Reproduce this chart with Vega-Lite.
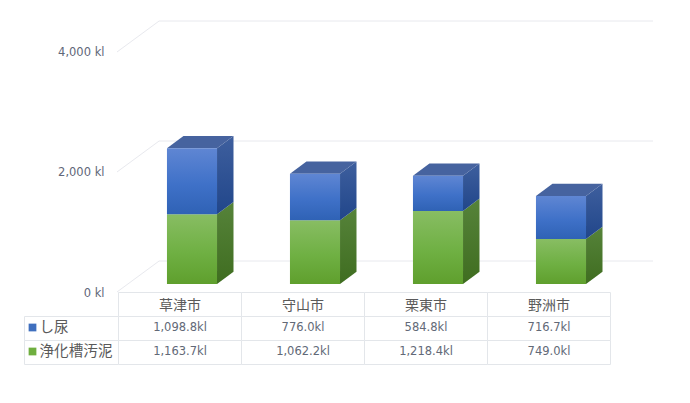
{
"$schema":"https://vega.github.io/schema/vega-lite/v6.json",
"width":690,"height":403,"padding":0,"autosize":{"type":"none"},"background":"white",
"config":{"view":{"stroke":null}},
"datasets":{
"rows":[
{"city":"草津市","series":"し尿","value":1098.8},
{"city":"草津市","series":"浄化槽汚泥","value":1163.7},
{"city":"守山市","series":"し尿","value":776.0},
{"city":"守山市","series":"浄化槽汚泥","value":1062.2},
{"city":"栗東市","series":"し尿","value":584.8},
{"city":"栗東市","series":"浄化槽汚泥","value":1218.4},
{"city":"野洲市","series":"し尿","value":716.7},
{"city":"野洲市","series":"浄化槽汚泥","value":749.0}
],
"ticks":[{"v":0},{"v":2000},{"v":4000}]
},
"resolve":{"scale":{"x":"independent","y":"independent"},"axis":{"x":"independent","y":"independent"}},
"layer":[
{
"layer":[
{"data":{"name":"ticks"},
"transform":[{"calculate":"[0,1,2]","as":"stop"},{"flatten":["stop"]},
{"calculate":"[-0.012,0.33,4.346][datum.stop]","as":"wx"},
{"calculate":"datum.v+[-133,383,383][datum.stop]","as":"wy"}],
"mark":{"type":"line","color":"#e8e9ee","strokeWidth":1,"interpolate":"linear"},
"encoding":{
"x":{"field":"wx","type":"quantitative","scale":{"domain":[-0.96341,4.64634],"nice":false,"zero":false},"axis":null},
"y":{"field":"wy","type":"quantitative","stack":null,"scale":{"domain":[-1983.33,4733.33],"nice":false,"zero":false},
"axis":{"title":null,"values":[0,2000,4000],"domain":false,"ticks":false,"grid":false,"labelPadding":0,"offset":-104,"labelOffset":9,"labelFont":"DejaVu Sans","labelFontSize":11.5,"labelColor":"#5f6779","labelExpr":"format(datum.value,',')+' kl'"}},
"detail":{"field":"v"},
"order":{"field":"stop"}
}},
{"data":{"name":"rows"},
"transform":[
{"stack":"value","groupby":["city"],"sort":[{"field":"series","order":"descending"}],"as":["y0","y1"]},
{"calculate":"indexof(['草津市','守山市','栗東市','野洲市'],datum.city)","as":"i"},
{"calculate":"datum.i+0.394","as":"left"},
{"calculate":"datum.i+0.801","as":"right"}],
"layer":[
{"transform":[{"filter":"datum.series==='浄化槽汚泥'"},{"calculate":"[0,1]","as":"d"},{"flatten":["d"]},{"calculate":"datum.right+datum.d*0.134","as":"sx"},{"calculate":"datum.y0+datum.d*205","as":"sa"},{"calculate":"datum.y1+datum.d*205","as":"sb"}],
"mark":{"type":"area","orient":"vertical","color":{"gradient":"linear","x1":0,"y1":0,"x2":0,"y2":1,"stops":[{"offset":0,"color":"#56833a"},{"offset":1,"color":"#3f6d20"}]}},
"encoding":{"x":{"field":"sx","type":"quantitative"},"y":{"field":"sa","type":"quantitative","stack":null},"y2":{"field":"sb"},"detail":{"field":"city"}}},
{"transform":[{"filter":"datum.series==='し尿'"},{"calculate":"[0,1]","as":"d"},{"flatten":["d"]},{"calculate":"datum.right+datum.d*0.134","as":"sx"},{"calculate":"datum.y0+datum.d*205","as":"sa"},{"calculate":"datum.y1+datum.d*205","as":"sb"}],
"mark":{"type":"area","orient":"vertical","color":{"gradient":"linear","x1":0,"y1":0,"x2":0,"y2":1,"stops":[{"offset":0,"color":"#3e5f9e"},{"offset":1,"color":"#21468a"}]}},
"encoding":{"x":{"field":"sx","type":"quantitative"},"y":{"field":"sa","type":"quantitative","stack":null},"y2":{"field":"sb"},"detail":{"field":"city"}}},
{"transform":[{"filter":"datum.series==='し尿'"},{"calculate":"[0,1]","as":"d"},{"flatten":["d"]},{"calculate":"datum.left+datum.d*0.134","as":"ta"},{"calculate":"datum.right+datum.d*0.134","as":"tb"},{"calculate":"datum.y1+datum.d*205","as":"ty"}],
"mark":{"type":"area","orient":"horizontal","color":"#46639f"},
"encoding":{"y":{"field":"ty","type":"quantitative","stack":null},"x":{"field":"ta","type":"quantitative"},"x2":{"field":"tb"},"detail":{"field":"city"}}},
{"transform":[{"filter":"datum.series==='浄化槽汚泥'"}],
"mark":{"type":"rect","color":{"gradient":"linear","x1":0,"y1":0,"x2":0,"y2":1,"stops":[{"offset":0,"color":"#88bd63"},{"offset":0.55,"color":"#6fb043"},{"offset":1,"color":"#5f9f2d"}]}},
"encoding":{"x":{"field":"left","type":"quantitative"},"x2":{"field":"right"},"y":{"field":"y0","type":"quantitative"},"y2":{"field":"y1"}}},
{"transform":[{"filter":"datum.series==='し尿'"}],
"mark":{"type":"rect","color":{"gradient":"linear","x1":0,"y1":0,"x2":0,"y2":1,"stops":[{"offset":0,"color":"#5f86d3"},{"offset":0.55,"color":"#3f71c8"},{"offset":1,"color":"#2f62b5"}]}},
"encoding":{"x":{"field":"left","type":"quantitative"},"x2":{"field":"right"},"y":{"field":"y0","type":"quantitative"},"y2":{"field":"y1"}}}
]}
]},
{"data":{"name":"rows"},
"transform":[{"calculate":"format(datum.value,',.1f')+'kl'","as":"label"}],
"encoding":{
"x":{"field":"city","type":"nominal","sort":null,"scale":{"type":"band","domain":["草津市","守山市","栗東市","野洲市"],"range":[118.5,610.5],"paddingInner":0,"paddingOuter":0},"axis":null},
"y":{"field":"series","type":"nominal","scale":{"type":"band","domain":["header","し尿","浄化槽汚泥"],"range":[292.5,364.5],"paddingInner":0,"paddingOuter":0},"axis":null}
},
"layer":[
{"mark":{"type":"rect","fill":"white","stroke":"#e3e6ea","strokeWidth":1}},
{"transform":[{"filter":"datum.series==='し尿'"}],"mark":{"type":"rect","fill":"white","stroke":"#e3e6ea","strokeWidth":1},"encoding":{"y":{"datum":"header"}}},
{"mark":{"type":"text","font":"DejaVu Sans","fontSize":11.5,"color":"#626977","yOffset":-0.5},"encoding":{"text":{"field":"label"}}},
{"transform":[{"filter":"datum.series==='し尿'"}],"mark":{"type":"text","font":"Noto Sans CJK JP","fontSize":14,"color":"#5a5a5a","yOffset":1.5},"encoding":{"y":{"datum":"header"},"text":{"field":"city"}}}
]},
{"data":{"name":"rows"},
"transform":[{"filter":"datum.city==='草津市'"}],
"encoding":{
"x":{"datum":"row","type":"nominal","scale":{"type":"band","domain":["row"],"range":[24.5,118.5],"paddingInner":0,"paddingOuter":0},"axis":null},
"y":{"field":"series","type":"nominal","scale":{"type":"band","domain":["header","し尿","浄化槽汚泥"],"range":[292.5,364.5],"paddingInner":0,"paddingOuter":0},"axis":null}
},
"layer":[
{"mark":{"type":"rect","fill":"white","stroke":"#e3e6ea","strokeWidth":1}},
{"mark":{"type":"point","shape":"square","filled":true,"size":60,"opacity":1,"xOffset":-39,"yOffset":-1},"encoding":{"color":{"field":"series","type":"nominal","scale":{"domain":["し尿","浄化槽汚泥"],"range":["#3f6fbe","#6fae3f"]},"legend":null}}},
{"mark":{"type":"text","align":"left","dx":-32,"yOffset":-1,"font":"Noto Sans CJK JP","fontSize":14.6,"color":"#5a5a5a"},"encoding":{"text":{"field":"series"}}}
]}
]}
